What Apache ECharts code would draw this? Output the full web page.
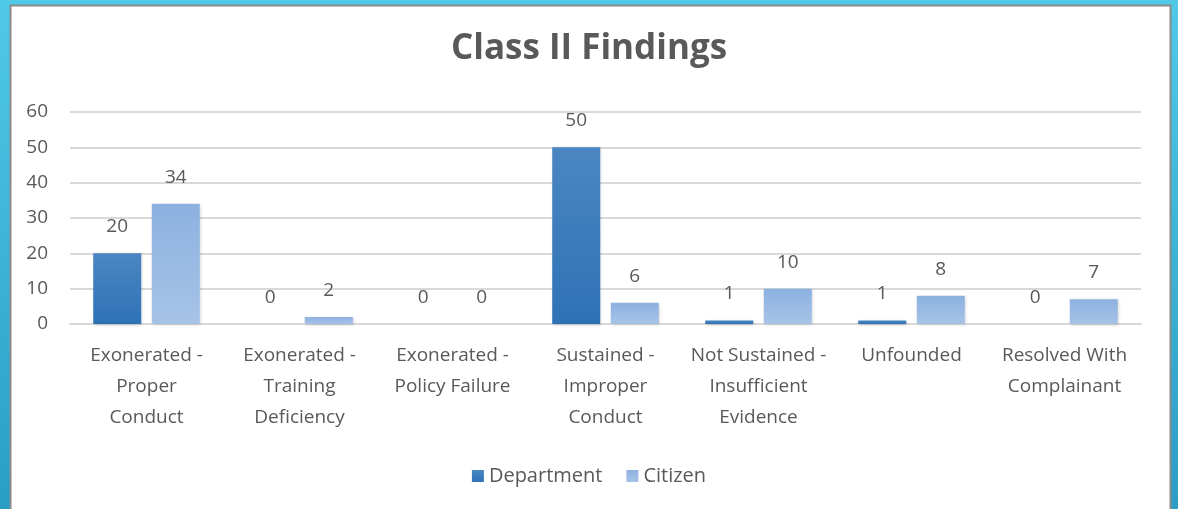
<!DOCTYPE html>
<html>
<head>
<meta charset="utf-8">
<script src="https://cdn.jsdelivr.net/npm/echarts@6/dist/echarts.min.js"></script>
<style>
  html, body { margin: 0; padding: 0; }
  #chart { width: 1178px; height: 509px; }
</style>
</head>
<body>
<div id="chart"></div>
<script>
// Finding categories (x axis) and counts per complaint source
const categories = [
  'Exonerated -\nProper\nConduct',
  'Exonerated -\nTraining\nDeficiency',
  'Exonerated -\nPolicy Failure',
  'Sustained -\nImproper\nConduct',
  'Not Sustained -\nInsufficient\nEvidence',
  'Unfounded',
  'Resolved With\nComplainant'
];
const department = [20, 0, 0, 50, 1, 1, 0];
const citizen = [34, 2, 0, 6, 10, 8, 7];
const yTicks = { min: 0, max: 60, interval: 10 };

const FONT = '"Open Sans", Lato, sans-serif';
const TEXT = '#595959';

const chart = echarts.init(document.getElementById('chart'), null, { renderer: 'canvas' });

const deptFill = new echarts.graphic.LinearGradient(0, 0, 0, 1, [
  { offset: 0, color: '#4b86c2' },
  { offset: 1, color: '#2e72b6' }
]);
const citFill = new echarts.graphic.LinearGradient(0, 0, 0, 1, [
  { offset: 0, color: '#8cb1e0' },
  { offset: 1, color: '#a7c3e7' }
]);

const valueLabel = {
  show: true,
  position: 'top',
  distance: 17,
  fontFamily: FONT,
  fontSize: 19,
  color: TEXT
};

chart.setOption({
  backgroundColor: new echarts.graphic.LinearGradient(0, 0, 0, 1, [
    { offset: 0, color: '#50c9e6' },
    { offset: 1, color: '#2a9dc6' }
  ]),
  graphic: [
    {
      type: 'rect',
      z: -10,
      silent: true,
      shape: { x: 10.5, y: 5.5, width: 1160, height: 520 },
      style: { fill: '#ffffff', stroke: '#8a8a8a', lineWidth: 2 }
    }
  ],
  title: {
    text: 'Class II Findings',
    left: 'center',
    top: 27,
    textStyle: { fontFamily: FONT, fontSize: 35, fontWeight: 'bold', color: TEXT }
  },
  legend: {
    bottom: 18,
    left: 'center',
    itemWidth: 12,
    itemHeight: 12,
    itemGap: 24,
    icon: 'rect',
    textStyle: { fontFamily: FONT, fontSize: 20, color: TEXT },
    data: ['Department', 'Citizen']
  },
  grid: { left: 70, right: 37, top: 112, bottom: 185, containLabel: false },
  xAxis: {
    type: 'category',
    data: categories,
    axisTick: { show: false },
    axisLine: { lineStyle: { color: '#d9d9d9', width: 2 } },
    axisLabel: {
      interval: 0,
      margin: 16,
      fontFamily: FONT,
      fontSize: 19,
      lineHeight: 31,
      color: TEXT
    }
  },
  yAxis: {
    type: 'value',
    min: yTicks.min,
    max: yTicks.max,
    interval: yTicks.interval,
    axisLine: { show: false },
    axisTick: { show: false },
    splitLine: { lineStyle: { color: '#d9d9d9', width: 2 } },
    axisLabel: { margin: 22, fontFamily: FONT, fontSize: 19, color: TEXT }
  },
  series: [
    {
      name: 'Department',
      type: 'bar',
      data: department,
      barWidth: 48,
      barGap: '22%',
      itemStyle: {
        color: deptFill,
        shadowBlur: 3,
        shadowColor: 'rgba(0,0,0,0.18)',
        shadowOffsetX: 1,
        shadowOffsetY: 1
      },
      label: valueLabel
    },
    {
      name: 'Citizen',
      type: 'bar',
      data: citizen,
      barWidth: 48,
      itemStyle: {
        color: citFill,
        shadowBlur: 3,
        shadowColor: 'rgba(0,0,0,0.18)',
        shadowOffsetX: 1,
        shadowOffsetY: 1
      },
      label: valueLabel
    }
  ]
});
</script>
</body>
</html>
